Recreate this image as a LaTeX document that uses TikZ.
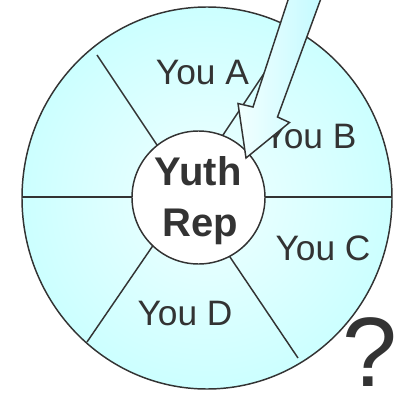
\documentclass[tikz,border=0pt]{standalone}
\usepackage{fontspec}
\setmainfont{Liberation Sans}
\usetikzlibrary{shapes.geometric}
\begin{document}
\begin{tikzpicture}[x=0.75pt,y=-0.75pt]
\definecolor{ink}{RGB}{51,51,51}
\definecolor{cyanedge}{RGB}{204,255,255}
\definecolor{cyanmid}{RGB}{240,255,255}
\definecolor{arrowlight}{RGB}{242,255,255}
\definecolor{arrowdark}{RGB}{196,250,255}
\tikzset{
  outline/.style={draw=ink, line width=1.1pt},
  spoke/.style={draw=ink, line width=1.1pt},
  youlabel/.style={font=\fontsize{26.5}{30}\selectfont, text=ink, anchor=base, inner sep=0pt},
  replabel/.style={font=\fontsize{30}{36}\selectfont\bfseries, text=ink, anchor=base, inner sep=0pt},
  qlabel/.style={font=\fontsize{74}{80}\selectfont, text=ink, anchor=base, inner sep=0pt},
}
\useasboundingbox (0,0) rectangle (399,392);
% outer wheel
\node[ellipse, outline, inner color=cyanmid, outer color=cyanedge,
      minimum width=277.5pt, minimum height=286.5pt, inner sep=0pt] (wheel) at (207,198) {};
% spokes
\coordinate (ulo) at (97,55);   \coordinate (uli) at (161,151);
\coordinate (uro) at (283,45);  \coordinate (uri) at (219.7,140);
\coordinate (llo) at (87,342);  \coordinate (lli) at (155.4,242);
\coordinate (lro) at (298,358); \coordinate (lri) at (226.6,252);
\coordinate (lo) at (22,197);   \coordinate (li) at (140,197);
\coordinate (ro) at (392,197);  \coordinate (ri) at (258,197);
\draw[spoke] (ulo) -- (uli);
\draw[spoke] (uro) -- (uri);
\draw[spoke] (llo) -- (lli);
\draw[spoke] (lro) -- (lri);
\draw[spoke] (lo) -- (li);
\draw[spoke] (ro) -- (ri);
% hub
\node[circle, outline, fill=white, minimum size=99.75pt, inner sep=0pt] (hub) at (198.5,197.5) {};
\node[replabel] (yuth) at (198.3,185) {Yuth};
\node[replabel] (rep) at (200.5,236.7) {Rep};
% labels
\node[youlabel] (youA) at (202.5,85) {You A};
\node[youlabel] (youB) at (310,148) {You B};
\node[youlabel] (youC) at (323,260.7) {You C};
\node[youlabel] (youD) at (185,325) {You D};
% big arrow
\coordinate (a1) at (289,-3);
\coordinate (a2) at (253,107);
\coordinate (a3) at (238,103.5);
\coordinate (a4) at (246,158);
\coordinate (a5) at (289.5,122.5);
\coordinate (a6) at (277.5,117);
\coordinate (a7) at (321.5,-3);
\path[outline, line join=miter, left color=arrowlight, right color=arrowdark]
  (a1) -- (a2) -- (a3) -- (a4) -- (a5) -- (a6) -- (a7) -- cycle;
% question mark
\node[qlabel] (q) at (369.5,386) {?};
\end{tikzpicture}
\end{document}
